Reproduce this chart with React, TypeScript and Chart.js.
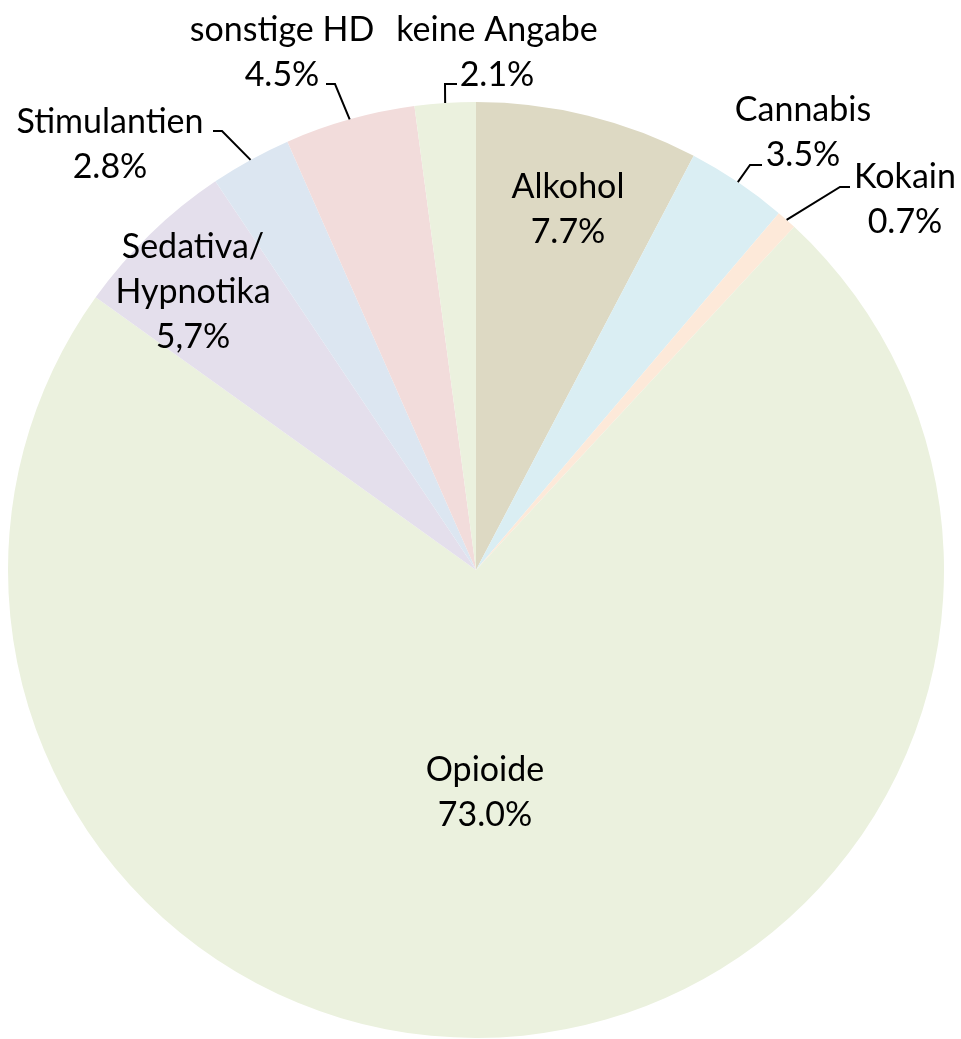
import React, { useEffect, useRef } from "react";
import { Chart, registerables } from "chart.js";

Chart.register(...registerables);

const categories = ["Alkohol", "Cannabis", "Kokain", "Opioide", "Sedativa/Hypnotika", "Stimulantien", "sonstige HD", "keine Angabe"];
const values = [7.7, 3.5, 0.7, 73.0, 5.7, 2.8, 4.5, 2.1];
const valueLabels = ["7.7%", "3.5%", "0.7%", "73.0%", "5,7%", "2.8%", "4.5%", "2.1%"];
const nameLines = [["Alkohol"], ["Cannabis"], ["Kokain"], ["Opioide"], ["Sedativa/", "Hypnotika"], ["Stimulantien"], ["sonstige HD"], ["keine Angabe"]];
const colors = ["#ddd9c3", "#daeef3", "#fde9d9", "#ebf1de", "#e4dfec", "#dce6f1", "#f2dcdb", "#ebf1de"];

// label layout relative to pie centre (px): text centre of first line, optional leader elbow [start, elbow]
type LabelLayout = { x: number; y: number; leader?: [number, number, number, number] };
const labelLayout: LabelLayout[] = [
  { x: 92, y: -383 },
  { x: 327, y: -460, leader: [286, -405, 274, -405] },
  { x: 429, y: -393, leader: [374, -383, 364, -383] },
  { x: 9, y: 200 },
  { x: -283, y: -323 },
  { x: -366, y: -448, leader: [-263, -439, -254, -439] },
  { x: -194, y: -540, leader: [-150, -486, -141, -486] },
  { x: 21, y: -540, leader: [-19, -486, -31, -486] },
];
const LINE_H = 45;
const FONT = "34px Lato, 'Open Sans', sans-serif";

const labelPlugin = {
  id: "pieLabels",
  afterDraw(chart: any) {
    const ctx = chart.ctx;
    const meta = chart.getDatasetMeta(0);
    ctx.save();
    ctx.font = FONT;
    ctx.fillStyle = "#000";
    ctx.textAlign = "center";
    ctx.textBaseline = "middle";
    meta.data.forEach((arc: any, i: number) => {
      const cx = arc.x, cy = arc.y;
      const lay = labelLayout[i];
      const lines = [...nameLines[i], valueLabels[i]];
      lines.forEach((t, k) => ctx.fillText(t, cx + lay.x, cy + lay.y + k * LINE_H));
      if (lay.leader) {
        const mid = (arc.startAngle + arc.endAngle) / 2;
        const ex = cx + Math.cos(mid) * arc.outerRadius;
        const ey = cy + Math.sin(mid) * arc.outerRadius;
        ctx.beginPath();
        ctx.strokeStyle = "#000";
        ctx.lineWidth = 2;
        ctx.moveTo(cx + lay.leader[0], cy + lay.leader[1]);
        ctx.lineTo(cx + lay.leader[2], cy + lay.leader[3]);
        ctx.lineTo(ex, ey);
        ctx.stroke();
      }
    });
    ctx.restore();
  },
};

export default function App() {
  const ref = useRef<HTMLCanvasElement>(null);
  useEffect(() => {
    document.body.style.margin = "0";
    const chart = new Chart(ref.current!, {
      type: "pie",
      data: {
        labels: categories,
        datasets: [{ data: values, backgroundColor: colors, borderWidth: 0 }],
      },
      options: {
        animation: false,
        responsive: false,
        layout: { padding: { left: 8, right: 17, top: 102, bottom: 1 } },
        plugins: { legend: { display: false }, tooltip: { enabled: false } },
      },
      plugins: [labelPlugin],
    });
    return () => chart.destroy();
  }, []);
  return (
    <div style={{ position: "absolute", left: 0, top: 0, width: 961, height: 1039, background: "#fff" }}>
      <canvas ref={ref} width={961} height={1039} />
    </div>
  );
}
